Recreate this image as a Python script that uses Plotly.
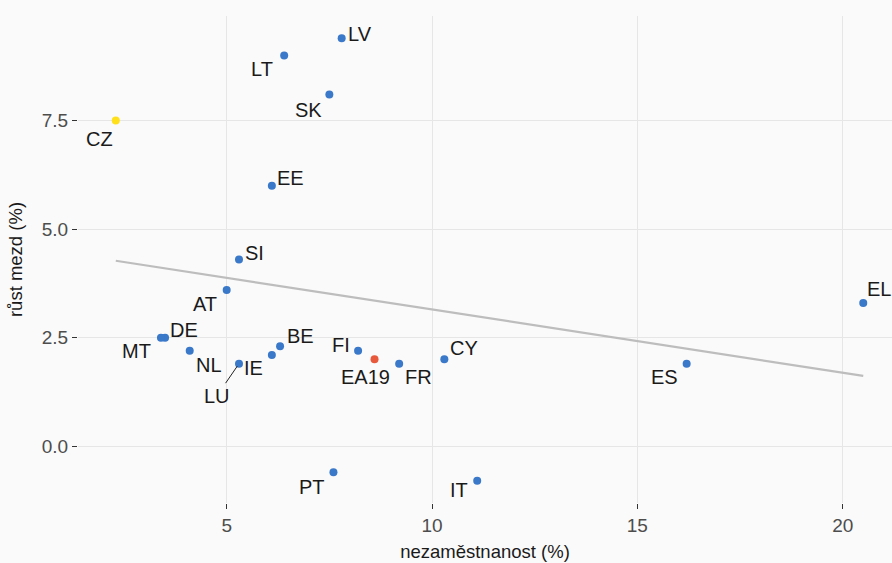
import numpy as np
import plotly.graph_objects as go

# data
zeme = ['LV', 'LT', 'SK', 'CZ', 'EE', 'SI', 'AT', 'DE', 'MT', 'NL', 'IE', 'BE',
        'LU', 'FI', 'EA19', 'FR', 'CY', 'PT', 'IT', 'ES', 'EL']
nezamestnanost = [7.8, 6.4, 7.5, 2.3, 6.1, 5.3, 5.0, 3.5, 3.4, 4.1, 6.1, 6.3,
                  5.3, 8.2, 8.6, 9.2, 10.3, 7.6, 11.1, 16.2, 20.5]
rust_mezd = [9.4, 9.0, 8.1, 7.5, 6.0, 4.3, 3.6, 2.5, 2.5, 2.2, 2.1, 2.3,
             1.9, 2.2, 2.0, 1.9, 2.0, -0.6, -0.8, 1.9, 3.3]

# label offsets in px (dx right, dy down), like ggrepel placed them
posun = {
    'LV': (18, -4), 'LT': (-22, 13), 'SK': (-21, 15), 'CZ': (-16, 18),
    'EE': (19, -8), 'SI': (16, -7), 'AT': (-22, 14), 'DE': (19, -8),
    'MT': (-24, 13), 'NL': (19, 14), 'IE': (-18, 13), 'BE': (20, -10),
    'LU': (-22, 32), 'FI': (-17, -6), 'EA19': (-9, 18), 'FR': (19, 13),
    'CY': (20, -11), 'PT': (-21, 15), 'IT': (-18, 9), 'ES': (-22, 13),
    'EL': (16, -14),
}

def barva(z):
    if z == 'CZ':
        return '#ffe01b'
    if z == 'EA19':
        return '#e8583a'
    return '#3a78c9'

font = 'Arial, Liberation Sans, sans-serif'

fig = go.Figure()

# linear trend
k, q = np.polyfit(nezamestnanost, rust_mezd, 1)
xs = np.array([min(nezamestnanost), max(nezamestnanost)])
fig.add_trace(go.Scatter(x=xs, y=k * xs + q, mode='lines',
                         line=dict(color='#bdbdbd', width=2.2),
                         hoverinfo='skip', showlegend=False))

fig.add_trace(go.Scatter(x=nezamestnanost, y=rust_mezd, mode='markers',
                         marker=dict(size=8, color=[barva(z) for z in zeme]),
                         text=zeme, showlegend=False))

for z, x, y in zip(zeme, nezamestnanost, rust_mezd):
    dx, dy = posun[z]
    if z == 'LU':
        fig.add_annotation(x=x, y=y, text=z, showarrow=True, arrowhead=0,
                           arrowwidth=1, arrowcolor='#222222', ax=dx, ay=dy,
                           standoff=3, font=dict(family=font, size=20, color='#1a1a1a'))
    else:
        fig.add_annotation(x=x, y=y, text=z, showarrow=False,
                           xshift=dx, yshift=-dy,
                           font=dict(family=font, size=20, color='#1a1a1a'))

fig.update_layout(
    width=892, height=563,
    margin=dict(l=78, r=0, t=16, b=60),
    paper_bgcolor='#fafafa', plot_bgcolor='#fafafa',
    font=dict(family=font, color='#4d4d4d'),
)
fig.update_xaxes(range=[1.38, 21.2], tickvals=[5, 10, 15, 20],
                 showgrid=True, gridcolor='#e6e6e6', gridwidth=1, zeroline=False,
                 ticks='outside', ticklen=5, tickcolor='#333333',
                 tickfont=dict(size=19, color='#4d4d4d'), automargin=False,
                 title=dict(text='nezaměstnanost (%)', font=dict(size=18.5, color='#1a1a1a'),
                            standoff=10))
fig.update_yaxes(range=[-1.31, 9.91], tickvals=[0, 2.5, 5, 7.5],
                 ticktext=['0.0', '2.5', '5.0', '7.5'],
                 showgrid=True, gridcolor='#e6e6e6', gridwidth=1, zeroline=False,
                 ticks='outside', ticklen=5, tickcolor='#333333',
                 tickfont=dict(size=19, color='#4d4d4d'), automargin=False,
                 title=dict(text='růst mezd (%)', font=dict(size=18.5, color='#1a1a1a'),
                            standoff=14))

fig.write_html("out.html", config={'displayModeBar': False},
               post_script="document.body.style.margin='0';")
